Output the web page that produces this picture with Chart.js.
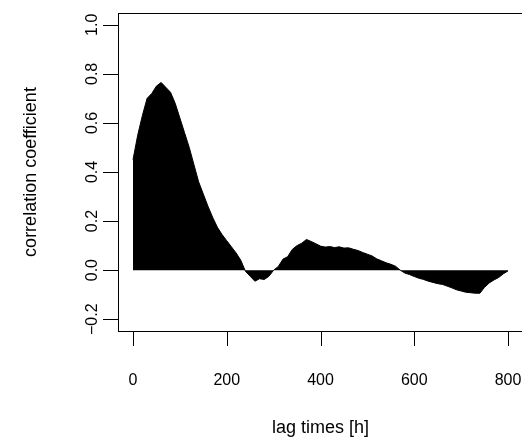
<!DOCTYPE html>
<html>
<head>
<meta charset="utf-8">
<script src="https://cdn.jsdelivr.net/npm/chart.js@4.4.1/dist/chart.umd.min.js"></script>
<style>
html,body{margin:0;padding:0;background:#fff;overflow:hidden;}
canvas{display:block;}
</style>
</head>
<body>
<canvas id="c" width="526" height="448"></canvas>
<script>
// lag times [h]
const lags = [0,10,20,30,40,50,60,70,80,90,100,110,120,130,140,150,160,170,180,190,200,
  210,220,230,240,250,260,270,280,290,300,310,320,330,340,350,360,370,380,390,400,
  410,420,430,440,450,460,470,480,490,500,510,520,530,540,550,560,570,580,590,600,
  610,620,630,640,650,660,670,680,690,700,710,720,730,740,750,760,770,780,790,800];
// correlation coefficient
const corr = [0.45,0.55,0.63,0.70,0.72,0.75,0.765,0.745,0.725,0.68,0.62,0.56,0.50,0.43,0.36,0.31,0.26,0.215,0.175,0.145,0.12,
  0.095,0.07,0.04,-0.005,-0.025,-0.045,-0.035,-0.038,-0.025,0.0,0.015,0.045,0.055,0.085,0.10,0.11,0.125,0.117,0.108,0.098,
  0.094,0.096,0.092,0.095,0.09,0.091,0.085,0.08,0.072,0.065,0.058,0.046,0.038,0.03,0.024,0.016,0.0,-0.012,-0.018,-0.026,
  -0.033,-0.038,-0.045,-0.05,-0.055,-0.058,-0.065,-0.072,-0.08,-0.085,-0.09,-0.092,-0.094,-0.094,-0.07,-0.052,-0.04,-0.03,-0.015,-0.003];
const xTicks = [0,200,400,600,800];
const xTickLabels = ["0","200","400","600","800"];
const yTicks = [-0.2,0,0.2,0.4,0.6,0.8,1.0];
const yTickLabels = ["\u22120.2","0.0","0.2","0.4","0.6","0.8","1.0"];
const xTitle = "lag times [h]";
const yTitle = "correlation coefficient";

const FONT = '"Liberation Sans", Arial, Helvetica, sans-serif';

const points = lags.map((x,i)=>({x:x,y:corr[i]}));

const rPlot = {
  id:'rPlot',
  afterDraw(chart){
    const ctx = chart.ctx, a = chart.chartArea;
    const xs = chart.scales.x, ys = chart.scales.y;
    ctx.save();
    ctx.strokeStyle='#000'; ctx.lineWidth=1;
    ctx.strokeRect(Math.round(a.left)+0.5, Math.round(a.top)+0.5, Math.round(a.right-a.left), Math.round(a.bottom-a.top));
    // ticks
    ctx.beginPath();
    xTicks.forEach(v=>{const px=Math.round(xs.getPixelForValue(v))+0.5; ctx.moveTo(px,a.bottom); ctx.lineTo(px,a.bottom+15);});
    yTicks.forEach(v=>{const py=Math.round(ys.getPixelForValue(v))+0.5; ctx.moveTo(a.left,py); ctx.lineTo(a.left-15,py);});
    ctx.stroke();
    ctx.fillStyle='#000';
    ctx.font='16px '+FONT;
    ctx.textAlign='center'; ctx.textBaseline='middle';
    xTicks.forEach((v,i)=>{ctx.fillText(xTickLabels[i], xs.getPixelForValue(v), 381);});
    yTicks.forEach((v,i)=>{
      ctx.save(); ctx.translate(93, ys.getPixelForValue(v)); ctx.rotate(-Math.PI/2);
      ctx.fillText(yTickLabels[i],0,0); ctx.restore();
    });
    ctx.font='18px '+FONT;
    ctx.fillText(xTitle, (a.left+a.right)/2, 428);
    ctx.save(); ctx.translate(31,(a.top+a.bottom)/2); ctx.rotate(-Math.PI/2);
    ctx.fillText(yTitle,0,0); ctx.restore();
    ctx.restore();
  }
};

new Chart(document.getElementById('c'), {
  type:'line',
  data:{datasets:[{data:points, fill:'origin', backgroundColor:'#000', borderColor:'#000',
    borderWidth:1, pointRadius:0, tension:0}]},
  options:{
    responsive:false, animation:false, devicePixelRatio:1,
    layout:{padding:{top:13, right:3, left:0, bottom:0}},
    plugins:{legend:{display:false}, tooltip:{enabled:false}},
    scales:{
      x:{type:'linear', min:-32, max:832,
        afterBuildTicks(s){ s.ticks = xTicks.map(v=>({value:v})); },
        afterFit(s){ s.height = 117; },
        ticks:{display:false}, grid:{display:false}, border:{display:false}},
      y:{type:'linear', min:-0.248, max:1.048,
        afterBuildTicks(s){ s.ticks = yTicks.map(v=>({value:v})); },
        afterFit(s){ s.width = 118; },
        ticks:{display:false}, grid:{display:false}, border:{display:false}}
    }
  },
  plugins:[rPlot]
});
</script>
</body>
</html>
